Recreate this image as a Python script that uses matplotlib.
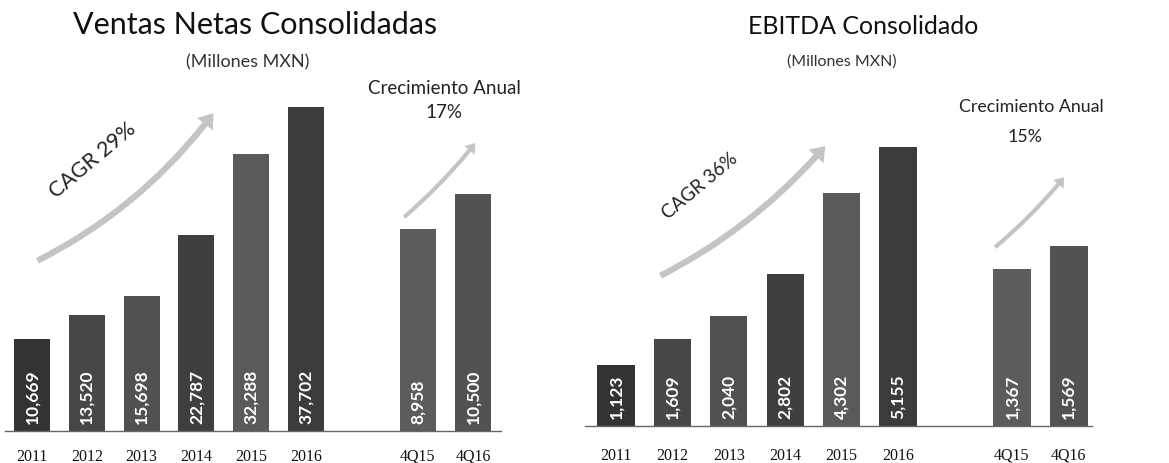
import matplotlib
matplotlib.use("Agg")
import matplotlib.pyplot as plt
from matplotlib.patches import FancyArrowPatch

# ---- data ----
years = ["2011", "2012", "2013", "2014", "2015", "2016"]
quarters = ["4Q15", "4Q16"]
ventas_anual = [10669, 13520, 15698, 22787, 32288, 37702]
ventas_trim = [8958, 10500]
ebitda_anual = [1123, 1609, 2040, 2802, 4302, 5155]
ebitda_trim = [1367, 1569]
cagr_labels = ["CAGR 29%", "CAGR 36%"]
crec_labels = ["17%", "15%"]

W, H = 1169, 464
fig = plt.figure(figsize=(W / 100, H / 100), dpi=100)

TITLE_FONT = ["Lato", "DejaVu Sans"]
TICK_FONT = ["Liberation Serif", "DejaVu Serif"]

annual_colors = ["#333333", "#474747", "#515151", "#3f3f3f", "#5a5a5a", "#3b3b3b"]
quarter_colors = ["#5c5c5c", "#525252"]


def fx(px):
    return px / W


def fy(py):
    return 1 - py / H


def panel(left_px, right_px, base_px, x0, spacing, xq, annual, quarter,
          ymax_a, ymax_q, pad):
    xlim = ((left_px - x0) / spacing, (right_px - x0) / spacing)
    ax = fig.add_axes([fx(left_px), 1 - base_px / H, fx(right_px - left_px), 340 / H])
    ax2 = ax.twinx()
    xa = list(range(len(annual)))
    bw = 0.66
    ax.bar(xa, annual, width=bw, color=annual_colors, zorder=2)
    ax2.bar(xq, quarter, width=bw, color=quarter_colors, zorder=2)
    for a in (ax, ax2):
        a.set_xlim(*xlim)
        for s in ("top", "right", "left"):
            a.spines[s].set_visible(False)
        a.set_yticks([])
    ax.set_ylim(0, ymax_a)
    ax2.set_ylim(0, ymax_q)
    ax2.spines["bottom"].set_visible(False)
    ax.spines["bottom"].set_color("#666666")
    ax.spines["bottom"].set_linewidth(1.0)
    ax.set_xticks(xa + list(xq))
    ax.set_xticklabels(years + quarters, fontsize=11.5, family=TICK_FONT, color="#111111")
    ax.tick_params(axis="x", length=0, pad=pad)
    for x, v in zip(xa, annual):
        ax.text(x, ymax_a * 8 / 340, f"{v:,}", rotation=90, ha="center", va="bottom",
                color="white", fontsize=12.5, fontweight="bold", family=TITLE_FONT, zorder=3)
    for x, v in zip(xq, quarter):
        ax2.text(x, ymax_q * 8 / 340, f"{v:,}", rotation=90, ha="center", va="bottom",
                 color="white", fontsize=12.5, fontweight="bold", family=TITLE_FONT, zorder=3)
    return ax


def arrow(p0, p1, rad, width):
    a = FancyArrowPatch((fx(p0[0]), fy(p0[1])), (fx(p1[0]), fy(p1[1])),
                        transform=fig.transFigure,
                        arrowstyle=f"simple,head_length={width*1.1},head_width={width*1.6},tail_width={width*0.5}",
                        connectionstyle=f"arc3,rad={rad}",
                        color="#c4c4c4", lw=0, zorder=1)
    fig.add_artist(a)


# Left panel: Ventas
panel(4.6, 500.5, 432, 32, 54.8, [7.04, 8.05], ventas_anual, ventas_trim,
      37702 * 340 / 324, 8958 * 340 / 202, 12)
# Right panel: EBITDA
panel(585, 1092, 427, 616, 56.4, [7.02, 8.03], ebitda_anual, ebitda_trim,
      5155 * 340 / 279, 1367 * 340 / 157, 15)

# Titles
fig.text(fx(255), fy(25), "Ventas Netas Consolidadas", ha="center", va="center",
         fontsize=22, family=TITLE_FONT, color="#111111")
fig.text(fx(248), fy(62), "(Millones MXN)", ha="center", va="center",
         fontsize=13, family=TITLE_FONT, color="#333333")
fig.text(fx(863), fy(27), "EBITDA Consolidado", ha="center", va="center",
         fontsize=18, family=TITLE_FONT, color="#111111")
fig.text(fx(842), fy(62), "(Millones MXN)", ha="center", va="center",
         fontsize=11.5, family=TITLE_FONT, color="#333333")

# Growth annotations
fig.text(fx(444), fy(88), "Crecimiento Anual", ha="center", va="center",
         fontsize=13.5, family=TITLE_FONT, color="#222222")
fig.text(fx(444), fy(113), crec_labels[0], ha="center", va="center",
         fontsize=13.5, family=TITLE_FONT, color="#222222")
fig.text(fx(1031), fy(107), "Crecimiento Anual", ha="center", va="center",
         fontsize=12.8, family=TITLE_FONT, color="#222222")
fig.text(fx(1025), fy(137), crec_labels[1], ha="center", va="center",
         fontsize=12.8, family=TITLE_FONT, color="#222222")

fig.text(fx(93), fy(160), cagr_labels[0], ha="center", va="center", rotation=40,
         fontsize=15.5, family=TITLE_FONT, color="#222222")
fig.text(fx(700), fy(186), cagr_labels[1], ha="center", va="center", rotation=40,
         fontsize=13.5, family=TITLE_FONT, color="#222222")

# arrows
arrow((35, 263), (215, 112), 0.12, 9)
arrow((402, 220), (477, 142), 0.05, 6)
arrow((658, 278), (827, 145), 0.1, 9)
arrow((993, 250), (1066, 176), 0.05, 6)

fig.savefig("out.png", dpi=100)
